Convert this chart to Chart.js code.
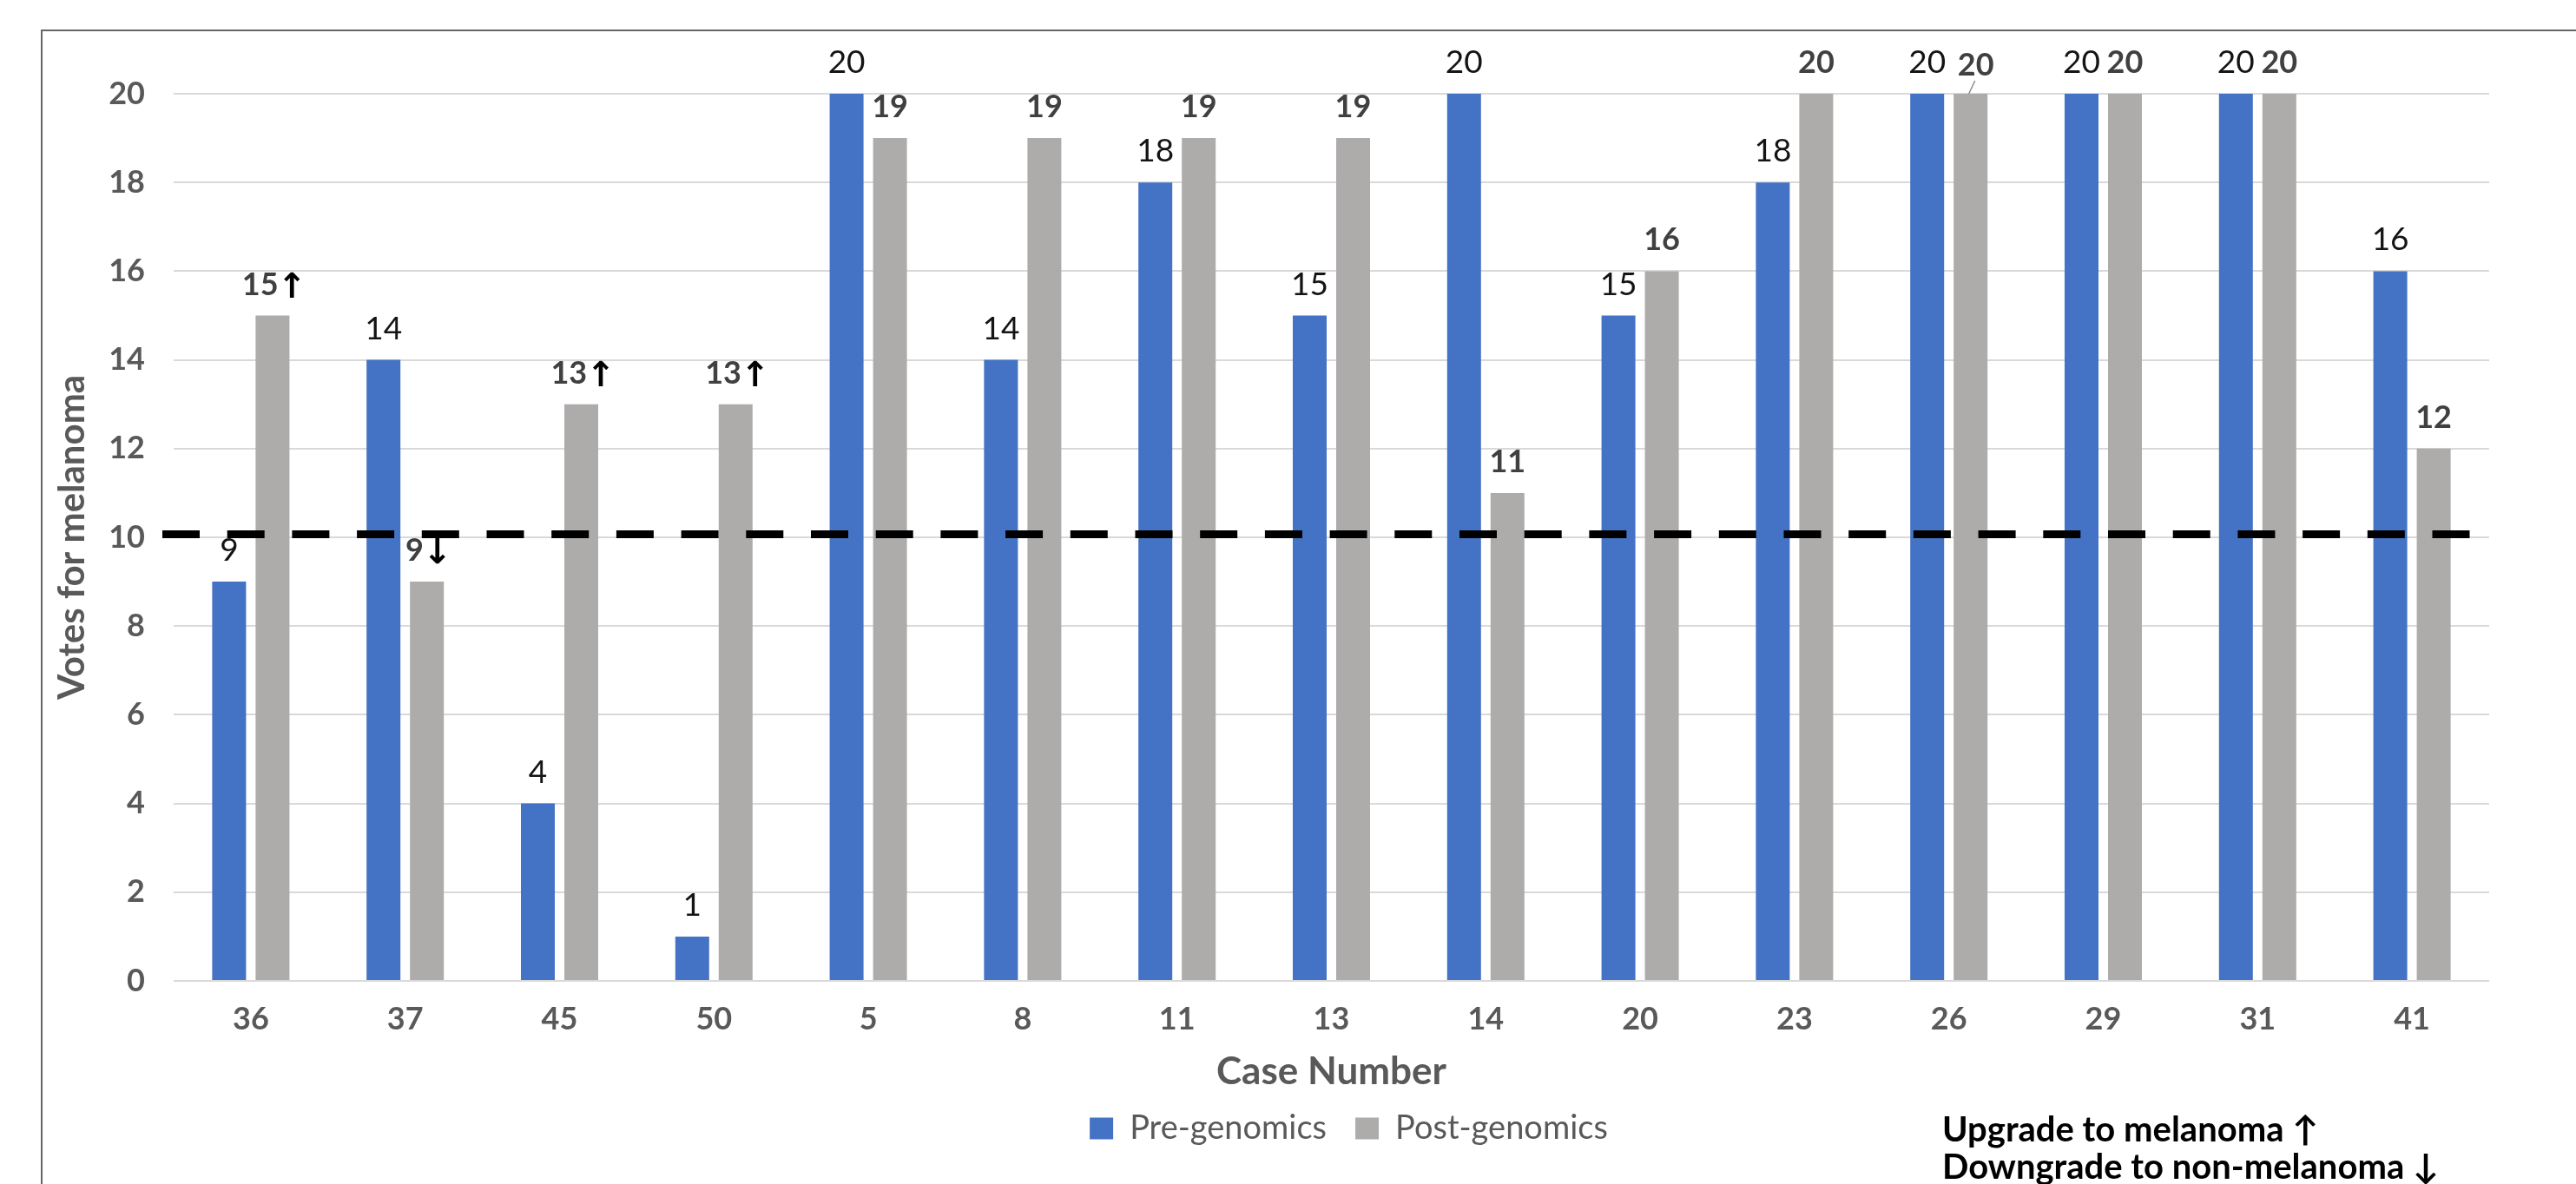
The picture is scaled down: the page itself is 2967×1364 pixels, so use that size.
<!DOCTYPE html>
<html>
<head>
<meta charset="utf-8">
<title>Votes for melanoma by case</title>
<script src="https://cdn.jsdelivr.net/npm/chart.js@4.4.1/dist/chart.umd.min.js"></script>
<style>
  html, body { margin: 0; padding: 0; background: #ffffff; overflow: hidden; width: 2967px; height: 1364px; }
  #votes { display: block; position: absolute; left: 0; top: 0; }
</style>
</head>
<body>
<canvas id="votes" width="2967" height="1364"></canvas>
<script>
// Case numbers along the x axis
const cases = ['36', '37', '45', '50', '5', '8', '11', '13', '14', '20', '23', '26', '29', '31', '41'];
// Votes for melanoma (out of 20) before and after genomic testing
const preGenomics  = [9, 14, 4, 1, 20, 14, 18, 15, 20, 15, 18, 20, 20, 20, 16];
const postGenomics = [15, 9, 13, 13, 19, 19, 19, 19, 11, 16, 20, 20, 20, 20, 12];
// Change of call after genomics: up = upgraded to melanoma, down = downgraded
const postChange = ['↑', '↓', '↑', '↑', '', '', '', '', '', '', '', '', '', '', ''];
// Majority threshold line
const thresholdVotes = 10.07;
// Footnote lines
const noteLines = ['Upgrade to melanoma ↑', 'Downgrade to non-melanoma ↓'];

const BLUE = '#4472C4';
const GREY = '#AEABAB';
const AXIS_TEXT = '#595959';

// Outer frame of the figure (left and top edges)
const framePlugin = {
  id: 'frame',
  beforeDraw(chart) {
    const ctx = chart.ctx;
    ctx.save();
    ctx.strokeStyle = '#666666';
    ctx.lineWidth = 2;
    ctx.beginPath();
    ctx.moveTo(48, chart.height);
    ctx.lineTo(48, 35);
    ctx.lineTo(chart.width + 10, 35);
    ctx.stroke();
    ctx.restore();
  }
};

// Dashed majority line across the plot
const thresholdPlugin = {
  id: 'threshold',
  afterDatasetsDraw(chart) {
    const ctx = chart.ctx;
    const area = chart.chartArea;
    const y = chart.scales.y.getPixelForValue(thresholdVotes);
    ctx.save();
    ctx.strokeStyle = '#000000';
    ctx.lineWidth = 9;
    ctx.lineCap = 'butt';
    ctx.setLineDash([43, 31.7]);
    ctx.beginPath();
    ctx.moveTo(area.left - 13, y);
    ctx.lineTo(area.right - 22, y);
    ctx.stroke();
    ctx.restore();
  }
};

// Value labels above each bar; post-genomics labels carry the change arrow
const valueLabelPlugin = {
  id: 'valueLabels',
  afterDatasetsDraw(chart) {
    const ctx = chart.ctx;
    ctx.save();
    ctx.textBaseline = 'alphabetic';
    ctx.textAlign = 'left';
    chart.data.datasets.forEach((ds, di) => {
      const meta = chart.getDatasetMeta(di);
      meta.data.forEach((bar, i) => {
        const value = ds.data[i];
        const numText = String(value);
        const arrow = di === 1 ? postChange[i] : '';
        const numFont = di === 1 ? 'bold 36px Lato' : '37px Lato';
        const arrowFont = 'bold 40px "DejaVu Sans"';
        ctx.font = numFont;
        const numW = ctx.measureText(numText).width;
        ctx.font = arrowFont;
        const arrowW = arrow ? ctx.measureText(arrow).width * 0.85 : 0;
        let cx = bar.x;
        let cy = bar.y - 37;
        // case 26: post label nudged aside with a short leader line
        if (di === 1 && i === 11) {
          cx = bar.x + 6;
          cy = bar.y - 34;
          ctx.strokeStyle = '#8c8c8c';
          ctx.lineWidth = 1.5;
          ctx.beginPath();
          ctx.moveTo(bar.x + 5, bar.y - 15);
          ctx.lineTo(bar.x - 2, bar.y);
          ctx.stroke();
        }
        const total = numW + arrowW;
        const x0 = cx - total / 2;
        const base = cy + 13;
        ctx.font = numFont;
        ctx.fillStyle = di === 1 ? '#404040' : '#141414';
        ctx.fillText(numText, x0, base);
        if (arrow) {
          ctx.font = arrowFont;
          ctx.fillStyle = '#000000';
          ctx.fillText(arrow, x0 + numW - 1, base + 3);
        }
      });
    });
    ctx.restore();
  }
};

// Footnote explaining the arrows
const notePlugin = {
  id: 'note',
  afterDraw(chart) {
    const ctx = chart.ctx;
    ctx.save();
    ctx.font = 'bold 40px Lato, "DejaVu Sans"';
    ctx.fillStyle = '#000000';
    ctx.textBaseline = 'middle';
    ctx.textAlign = 'left';
    ctx.fillText(noteLines[0], 2237, 1302);
    ctx.fillText(noteLines[1], 2237, 1345);
    ctx.restore();
  }
};

// Centre the legend under the bar groups
const legendShiftPlugin = {
  id: 'legendShift',
  afterLayout(chart) {
    if (chart.legend) {
      chart.legend.left += 20;
      chart.legend.right += 20;
    }
  }
};

function drawChart() {
  new Chart(document.getElementById('votes'), {
    type: 'bar',
    data: {
      labels: cases,
      datasets: [
        {
          label: 'Pre-genomics',
          data: preGenomics,
          backgroundColor: BLUE,
          borderWidth: 0,
          categoryPercentage: 0.5625,
          barPercentage: 0.78
        },
        {
          label: 'Post-genomics',
          data: postGenomics,
          backgroundColor: GREY,
          borderWidth: 0,
          categoryPercentage: 0.5625,
          barPercentage: 0.78
        }
      ]
    },
    options: {
      responsive: false,
      maintainAspectRatio: false,
      animation: false,
      devicePixelRatio: 1,
      layout: { padding: { left: 0, right: 100, top: 108, bottom: 35 } },
      plugins: {
        tooltip: { enabled: false },
        title: { display: false },
        legend: {
          display: true,
          position: 'bottom',
          fullSize: false,
          labels: {
            font: { family: 'Lato', size: 38 },
            color: AXIS_TEXT,
            boxWidth: 27,
            boxHeight: 25,
            padding: 33
          }
        }
      },
      scales: {
        x: {
          grid: { display: false, drawTicks: false },
          border: { display: false },
          ticks: {
            font: { family: 'Lato', weight: 'bold', size: 36 },
            color: AXIS_TEXT,
            padding: 23
          },
          title: {
            display: true,
            text: 'Case Number',
            font: { family: 'Lato', weight: 'bold', size: 44, lineHeight: 1 },
            color: AXIS_TEXT,
            padding: { top: 0, bottom: -9 }
          },
          afterFit(scale) { scale.height = 118; }
        },
        y: {
          min: 0,
          max: 20,
          grid: { color: '#D9D9D9', lineWidth: 2, drawTicks: false },
          border: { display: false },
          ticks: {
            stepSize: 2,
            font: { family: 'Lato', weight: 'bold', size: 36 },
            color: AXIS_TEXT,
            padding: 33
          },
          title: {
            display: true,
            text: 'Votes for melanoma',
            font: { family: 'Lato', weight: 'bold', size: 42, lineHeight: 1 },
            color: AXIS_TEXT,
            padding: { top: 62, bottom: 0 }
          },
          afterFit(scale) { scale.width = 200; }
        }
      }
    },
    plugins: [framePlugin, thresholdPlugin, valueLabelPlugin, notePlugin, legendShiftPlugin]
  });
}

Promise.all([
  document.fonts.load('36px Lato'),
  document.fonts.load('bold 36px Lato'),
  document.fonts.load('bold 40px "DejaVu Sans"')
]).then(drawChart, drawChart);
</script>
</body>
</html>
